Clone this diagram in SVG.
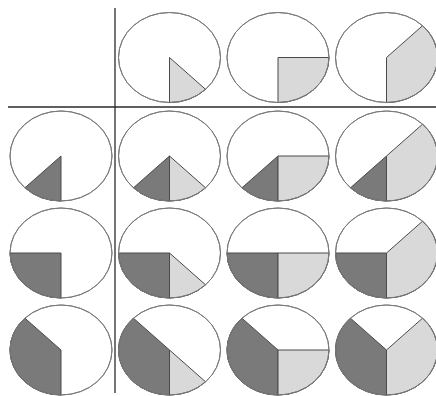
<svg xmlns="http://www.w3.org/2000/svg" xmlns:xlink="http://www.w3.org/1999/xlink" width="436" height="396" viewBox="0 0 436 396">
<style>
.bg{fill:#ffffff}
.rim{fill:#ffffff;stroke:#7a7a7a;stroke-width:1}
.rimo{fill:none;stroke:#7a7a7a;stroke-width:1}
.lt{fill:#d9d9d9;stroke:#4a4a4a;stroke-width:1}
.dk{fill:#7a7a7a;stroke:#4a4a4a;stroke-width:1}
.grid{stroke:#2a2a2a;stroke-width:1.3;fill:none}
</style>
<defs>
<path id="L1" class="lt" d="M0,0 V45 A51 45 0 0 0 36.06 31.82 Z"/>
<path id="L2" class="lt" d="M0,0 V45 A51 45 0 0 0 51 0 Z"/>
<path id="L3" class="lt" d="M0,0 V45 A51 45 0 0 0 36.06 -31.82 Z"/>
<path id="D1" class="dk" d="M0,0 V45 A51 45 0 0 1 -36.06 31.82 Z"/>
<path id="D2" class="dk" d="M0,0 V45 A51 45 0 0 1 -51 0 Z"/>
<path id="D3" class="dk" d="M0,0 V45 A51 45 0 0 1 -36.06 -31.82 Z"/>
<ellipse id="E" cx="0" cy="0" rx="51" ry="45"/>
</defs>
<rect class="bg" x="0" y="0" width="436" height="396"/>
<g id="connectors">
<line class="grid" x1="8" y1="107" x2="436" y2="107"/>
<line class="grid" x1="115" y1="8" x2="115" y2="393"/>
</g>
<g id="pie-0-1" transform="translate(169.5,57.5)"><use href="#E" class="rim"/><use href="#L1"/><use href="#E" class="rimo"/></g>
<g id="pie-0-2" transform="translate(278,57.5)"><use href="#E" class="rim"/><use href="#L2"/><use href="#E" class="rimo"/></g>
<g id="pie-0-3" transform="translate(386.5,57.5)"><use href="#E" class="rim"/><use href="#L3"/><use href="#E" class="rimo"/></g>

<g id="pie-1-0" transform="translate(61,156)"><use href="#E" class="rim"/><use href="#D1"/><use href="#E" class="rimo"/></g>
<g id="pie-1-1" transform="translate(169.5,156)"><use href="#E" class="rim"/><use href="#D1"/><use href="#L1"/><use href="#E" class="rimo"/></g>
<g id="pie-1-2" transform="translate(278,156)"><use href="#E" class="rim"/><use href="#D1"/><use href="#L2"/><use href="#E" class="rimo"/></g>
<g id="pie-1-3" transform="translate(386.5,156)"><use href="#E" class="rim"/><use href="#D1"/><use href="#L3"/><use href="#E" class="rimo"/></g>

<g id="pie-2-0" transform="translate(61,253)"><use href="#E" class="rim"/><use href="#D2"/><use href="#E" class="rimo"/></g>
<g id="pie-2-1" transform="translate(169.5,253)"><use href="#E" class="rim"/><use href="#D2"/><use href="#L1"/><use href="#E" class="rimo"/></g>
<g id="pie-2-2" transform="translate(278,253)"><use href="#E" class="rim"/><use href="#D2"/><use href="#L2"/><use href="#E" class="rimo"/></g>
<g id="pie-2-3" transform="translate(386.5,253)"><use href="#E" class="rim"/><use href="#D2"/><use href="#L3"/><use href="#E" class="rimo"/></g>

<g id="pie-3-0" transform="translate(61,350)"><use href="#E" class="rim"/><use href="#D3"/><use href="#E" class="rimo"/></g>
<g id="pie-3-1" transform="translate(169.5,350)"><use href="#E" class="rim"/><use href="#D3"/><use href="#L1"/><use href="#E" class="rimo"/></g>
<g id="pie-3-2" transform="translate(278,350)"><use href="#E" class="rim"/><use href="#D3"/><use href="#L2"/><use href="#E" class="rimo"/></g>
<g id="pie-3-3" transform="translate(386.5,350)"><use href="#E" class="rim"/><use href="#D3"/><use href="#L3"/><use href="#E" class="rimo"/></g>
</svg>
